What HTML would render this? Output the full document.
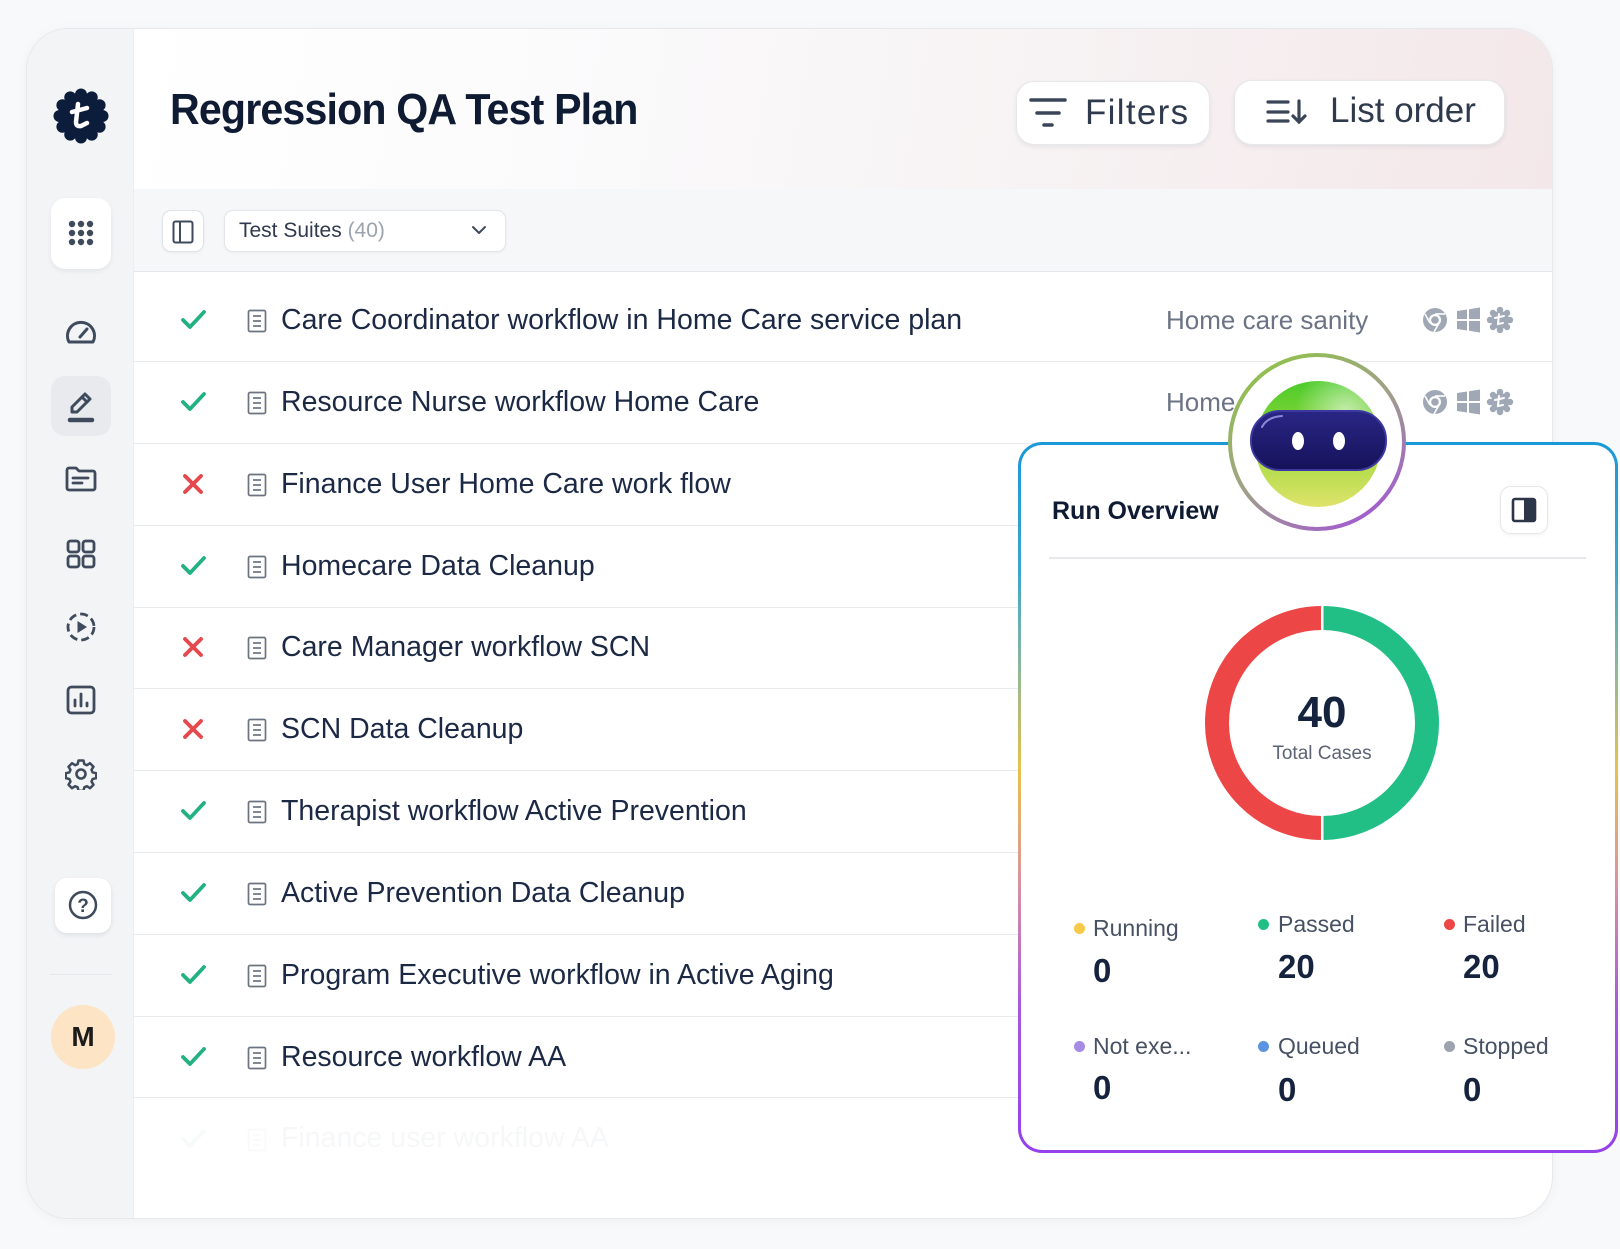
<!DOCTYPE html>
<html><head><meta charset="utf-8">
<style>
*{margin:0;padding:0;box-sizing:border-box}
html,body{width:1620px;height:1249px;overflow:hidden;background:#f8f9fa;font-family:"Liberation Sans",Arial,sans-serif;position:relative}
.a{position:absolute}
.t{position:absolute;white-space:nowrap}
.row{position:absolute;left:281px;font-size:28.5px;color:#1c2945;height:34px;line-height:34px;white-space:nowrap}
.sep{position:absolute;left:134px;width:1419px;height:1px;background:#e8eaee}
.lbl{position:absolute;font-size:23px;color:#475163;height:28px;line-height:28px;white-space:nowrap}
.val{position:absolute;font-size:33px;font-weight:bold;color:#16233f;height:38px;line-height:38px}
.dot{position:absolute;width:11px;height:11px;border-radius:50%}
</style></head><body>

<!-- Card -->
<div class="a" style="left:26px;top:28px;width:1527px;height:1191px;border:1px solid #e6e8ec;border-radius:42px;background:#fff;overflow:hidden;box-shadow:0 2px 12px rgba(20,30,50,0.04)">
  <div class="a" style="left:0;top:0;width:107px;height:1191px;background:#f3f4f6;border-right:1px solid #eceef1"></div>
  <div class="a" style="left:107px;top:0;width:1420px;height:160px;background:linear-gradient(100deg,#ffffff 0%,#fbfbfc 30%,#f7f2f3 65%,#f3e7e9 100%)"></div>
  <div class="a" style="left:107px;top:160px;width:1420px;height:83px;background:#f6f7f9;border-bottom:1px solid #e3e6ea"></div>
</div>

<!-- Logo -->
<svg class="a" style="left:53px;top:88px" width="56" height="56" viewBox="0 0 56 56">
  <g fill="#0c1c3b">
    <circle cx="28" cy="28" r="21"/>
    <circle cx="28" cy="6.5" r="6"/><circle cx="38.75" cy="9.4" r="6"/><circle cx="46.6" cy="17.25" r="6"/>
    <circle cx="49.5" cy="28" r="6"/><circle cx="46.6" cy="38.75" r="6"/><circle cx="38.75" cy="46.6" r="6"/>
    <circle cx="28" cy="49.5" r="6"/><circle cx="17.25" cy="46.6" r="6"/><circle cx="9.4" cy="38.75" r="6"/>
    <circle cx="6.5" cy="28" r="6"/><circle cx="9.4" cy="17.25" r="6"/><circle cx="17.25" cy="9.4" r="6"/>
  </g>
  <path d="M25 16 L23 34 Q23 39 28 38 L34 35 M19 24 L34 20" stroke="#fff" stroke-width="4.5" fill="none" stroke-linecap="round" stroke-linejoin="round"/>
</svg>

<!-- Title -->
<div class="t" style="left:170px;top:84px;height:52px;line-height:52px;font-size:44px;font-weight:bold;color:#0f1b33;letter-spacing:-0.9px;transform:scaleX(0.935);transform-origin:left center">Regression QA Test Plan</div>

<!-- Header buttons -->
<div class="a" style="left:1016px;top:81px;width:194px;height:64px;background:#fff;border:1px solid #e6e8ec;border-radius:18px;box-shadow:0 2px 5px rgba(30,40,60,0.07)"></div>
<svg class="a" style="left:1028px;top:96px" width="40" height="34"><g stroke="#3a4558" stroke-width="3.5" stroke-linecap="round"><line x1="3" y1="4" x2="37" y2="4"/><line x1="9" y1="17" x2="31" y2="17"/><line x1="16" y1="29" x2="24" y2="29"/></g></svg>
<div class="t" style="left:1085px;top:92px;height:42px;line-height:42px;font-size:35px;color:#2f3a4d;letter-spacing:1.3px">Filters</div>

<div class="a" style="left:1234px;top:80px;width:271px;height:65px;background:#fff;border:1px solid #e6e8ec;border-radius:18px;box-shadow:0 2px 5px rgba(30,40,60,0.07)"></div>
<svg class="a" style="left:1264px;top:96px" width="44" height="32"><g stroke="#3a4558" stroke-width="3.2" stroke-linecap="round" fill="none"><line x1="4" y1="6" x2="24" y2="6"/><line x1="4" y1="16" x2="24" y2="16"/><line x1="4" y1="25" x2="24" y2="25"/><line x1="35" y1="5" x2="35" y2="26"/><polyline points="29,20 35,26 41,20"/></g></svg>
<div class="t" style="left:1330px;top:90px;height:42px;line-height:42px;font-size:35px;color:#2f3a4d">List order</div>

<!-- Toolbar -->
<div class="a" style="left:162px;top:210px;width:42px;height:42px;background:#fff;border:1px solid #dfe2e7;border-radius:9px;box-shadow:0 1px 3px rgba(0,0,0,0.05)"></div>
<svg class="a" style="left:172px;top:220px" width="22" height="24"><rect x="1.5" y="1.5" width="19" height="21" rx="2" fill="none" stroke="#3f4a5c" stroke-width="2"/><line x1="8" y1="2" x2="8" y2="22" stroke="#3f4a5c" stroke-width="2"/></svg>
<div class="a" style="left:224px;top:210px;width:282px;height:42px;background:#fff;border:1px solid #e3e6ea;border-radius:9px;box-shadow:0 1px 3px rgba(0,0,0,0.05)"></div>
<div class="t" style="left:239px;top:218px;height:26px;line-height:26px;font-size:21px;color:#2f3a4d">Test Suites <span style="color:#9ca3af">(40)</span></div>
<svg class="a" style="left:471px;top:224px" width="16" height="12"><polyline points="2,3 8,9 14,3" fill="none" stroke="#3f4a5c" stroke-width="2" stroke-linecap="round" stroke-linejoin="round"/></svg>

<!-- Sidebar -->
<div class="a" style="left:51px;top:198px;width:60px;height:71px;background:#fff;border-radius:14px;box-shadow:0 2px 5px rgba(30,40,60,0.08)"></div>
<svg class="a" style="left:66px;top:218px" width="30" height="30"><g fill="#3f4a5c"><circle cx="6" cy="6" r="3.2"/><circle cx="15" cy="6" r="3.2"/><circle cx="24" cy="6" r="3.2"/><circle cx="6" cy="15" r="3.2"/><circle cx="15" cy="15" r="3.2"/><circle cx="24" cy="15" r="3.2"/><circle cx="6" cy="24" r="3.2"/><circle cx="15" cy="24" r="3.2"/><circle cx="24" cy="24" r="3.2"/></g></svg>

<svg class="a" style="left:64px;top:317px" width="34" height="30"><g stroke="#3f4a5c" stroke-width="3" fill="none" stroke-linecap="round" stroke-linejoin="round"><path d="M5 25 A13.5 13.5 0 1 1 29 25 Z"/><line x1="16" y1="20" x2="23" y2="12"/></g></svg>

<div class="a" style="left:51px;top:376px;width:60px;height:60px;background:#e8eaee;border-radius:14px"></div>
<svg class="a" style="left:63px;top:388px" width="36" height="36"><g stroke="#3f4a5c" stroke-width="3" fill="none" stroke-linecap="round" stroke-linejoin="round"><path d="M9 24 L9 19 L22 6 L27 11 L14 24 Z"/><line x1="19" y1="9" x2="24" y2="14"/></g><line x1="7" y1="32" x2="29" y2="32" stroke="#3f4a5c" stroke-width="4.5" stroke-linecap="round"/></svg>

<svg class="a" style="left:65px;top:466px" width="32" height="27"><g stroke="#3f4a5c" stroke-width="2.8" fill="none" stroke-linecap="round" stroke-linejoin="round"><path d="M2 4 a2 2 0 0 1 2-2 h7 l3 3 h14 a2 2 0 0 1 2 2 v15 a2 2 0 0 1 -2 2 h-24 a2 2 0 0 1 -2 -2 z"/><line x1="8" y1="12" x2="23" y2="12"/><line x1="8" y1="17" x2="17" y2="17"/></g></svg>

<svg class="a" style="left:66px;top:539px" width="30" height="30"><g stroke="#3f4a5c" stroke-width="2.8" fill="none"><rect x="2" y="2" width="11" height="11" rx="2.5"/><rect x="17" y="2" width="11" height="11" rx="2.5"/><rect x="2" y="17" width="11" height="11" rx="2.5"/><rect x="17" y="17" width="11" height="11" rx="2.5"/></g></svg>

<svg class="a" style="left:65px;top:611px" width="32" height="32"><circle cx="16" cy="16" r="13" fill="none" stroke="#3f4a5c" stroke-width="2.8" stroke-dasharray="8 4"/><path d="M12.5 10 L22 16 L12.5 22 Z" fill="#3f4a5c"/></svg>

<svg class="a" style="left:66px;top:685px" width="30" height="30"><rect x="2" y="2" width="26" height="26" rx="3.5" fill="none" stroke="#3f4a5c" stroke-width="2.8"/><g stroke="#3f4a5c" stroke-width="2.8" stroke-linecap="round"><line x1="9" y1="21" x2="9" y2="15"/><line x1="15" y1="21" x2="15" y2="9"/><line x1="21" y1="21" x2="21" y2="18"/></g></svg>

<svg class="a" style="left:65px;top:758px" width="32" height="32" viewBox="0 0 32 32">
  <path d="M13.5 2.5 h5 l0.8 3.6 l2.6 1.1 l3.1 -2 l3.5 3.5 l-2 3.1 l1.1 2.6 l3.6 0.8 v5 l-3.6 0.8 l-1.1 2.6 l2 3.1 l-3.5 3.5 l-3.1 -2 l-2.6 1.1 l-0.8 3.6 h-5 l-0.8 -3.6 l-2.6 -1.1 l-3.1 2 l-3.5 -3.5 l2 -3.1 l-1.1 -2.6 l-3.6 -0.8 v-5 l3.6 -0.8 l1.1 -2.6 l-2 -3.1 l3.5 -3.5 l3.1 2 l2.6 -1.1 z" fill="none" stroke="#3f4a5c" stroke-width="2.5" stroke-linejoin="round"/>
  <circle cx="16" cy="16" r="4.5" fill="none" stroke="#3f4a5c" stroke-width="2.6"/>
</svg>

<div class="a" style="left:55px;top:878px;width:56px;height:55px;background:#fff;border-radius:12px;box-shadow:0 2px 5px rgba(30,40,60,0.1)"></div>
<svg class="a" style="left:68px;top:890px" width="30" height="30"><circle cx="15" cy="15" r="13" fill="none" stroke="#3f4a5c" stroke-width="2.5"/><text x="15" y="22" text-anchor="middle" font-family="Liberation Sans, sans-serif" font-size="19" font-weight="bold" fill="#3f4a5c">?</text></svg>
<div class="a" style="left:50px;top:974px;width:62px;height:1px;background:#e5e7eb"></div>
<div class="a" style="left:51px;top:1005px;width:64px;height:64px;border-radius:50%;background:#fde4c4"></div>
<div class="t" style="left:51px;top:1020px;width:64px;height:34px;line-height:34px;text-align:center;font-size:28px;font-weight:bold;color:#1b1b1b">M</div>

<!-- Separators -->
<div class="sep" style="top:361px"></div>
<div class="sep" style="top:443px"></div>
<div class="sep" style="top:525px"></div>
<div class="sep" style="top:607px"></div>
<div class="sep" style="top:688px"></div>
<div class="sep" style="top:770px"></div>
<div class="sep" style="top:852px"></div>
<div class="sep" style="top:934px"></div>
<div class="sep" style="top:1016px"></div>
<div class="sep" style="top:1097px"></div>

<!-- Status icons and doc icons -->
<svg class="a" style="left:0;top:0" width="300" height="1249">
  <defs>
    <g id="ok"><polyline points="-10,0 -3,7 11,-8" fill="none" stroke="#21b27f" stroke-width="3.8" stroke-linecap="round" stroke-linejoin="round"/></g>
    <g id="no"><g stroke="#e5484d" stroke-width="3.8" stroke-linecap="round"><line x1="-8" y1="-8" x2="8" y2="8"/><line x1="8" y1="-8" x2="-8" y2="8"/></g></g>
    <g id="doc"><rect x="-8.5" y="-10.5" width="17" height="21" rx="1.5" fill="none" stroke="#6b7280" stroke-width="1.7"/><g stroke="#6b7280" stroke-width="1.7"><line x1="-4" y1="-5" x2="4" y2="-5"/><line x1="-4" y1="0" x2="4" y2="0"/><line x1="-4" y1="5" x2="4" y2="5"/></g></g>
  </defs>
  <use href="#ok" x="193" y="320"/><use href="#doc" x="257" y="321"/>
  <use href="#ok" x="193" y="402"/><use href="#doc" x="257" y="403"/>
  <use href="#no" x="193" y="484"/><use href="#doc" x="257" y="485"/>
  <use href="#ok" x="193" y="566"/><use href="#doc" x="257" y="567"/>
  <use href="#no" x="193" y="647"/><use href="#doc" x="257" y="648"/>
  <use href="#no" x="193" y="729"/><use href="#doc" x="257" y="730"/>
  <use href="#ok" x="193" y="811"/><use href="#doc" x="257" y="812"/>
  <use href="#ok" x="193" y="893"/><use href="#doc" x="257" y="894"/>
  <use href="#ok" x="193" y="975"/><use href="#doc" x="257" y="976"/>
  <use href="#ok" x="193" y="1057"/><use href="#doc" x="257" y="1058"/>
  <g opacity="0.035"><use href="#ok" x="193" y="1139"/><use href="#doc" x="257" y="1140"/></g>
</svg>

<div class="row" style="top:303px">Care Coordinator workflow in Home Care service plan</div>
<div class="row" style="top:385px">Resource Nurse workflow Home Care</div>
<div class="row" style="top:467px">Finance User Home Care work flow</div>
<div class="row" style="top:549px">Homecare Data Cleanup</div>
<div class="row" style="top:630px">Care Manager workflow SCN</div>
<div class="row" style="top:712px">SCN Data Cleanup</div>
<div class="row" style="top:794px">Therapist workflow Active Prevention</div>
<div class="row" style="top:876px">Active Prevention Data Cleanup</div>
<div class="row" style="top:958px">Program Executive workflow in Active Aging</div>
<div class="row" style="top:1040px">Resource workflow AA</div>
<div class="row" style="top:1121px;color:#f6f7f8">Finance user workflow AA</div>

<!-- Right column row 1/2 -->
<div class="t" style="left:1166px;top:304px;height:32px;line-height:32px;font-size:26px;color:#6b7384">Home care sanity</div>
<div class="t" style="left:1166px;top:386px;height:32px;line-height:32px;font-size:26px;color:#6b7384">Home</div>
<svg class="a" style="left:1420px;top:305px" width="96" height="115">
  <defs>
    <g id="ic">
      <circle cx="15" cy="15" r="12" fill="#a0a8b5"/><circle cx="15" cy="15" r="6" fill="#fff"/><circle cx="15" cy="15" r="3.8" fill="#a0a8b5"/>
      <path d="M15 9 L25 9" stroke="#fff" stroke-width="1.6"/><path d="M10 18 L5 9" stroke="#fff" stroke-width="1.6"/><path d="M19 18 L14 27" stroke="#fff" stroke-width="1.6"/>
      <g fill="#a0a8b5"><path d="M37 6 L47 4.5 L47 14 L37 14 Z"/><path d="M49 4.2 L60 2.5 L60 14 L49 14 Z"/><path d="M37 16 L47 16 L47 25.5 L37 24 Z"/><path d="M49 16 L60 16 L60 27.5 L49 25.8 Z"/></g>
      <g fill="#a0a8b5"><circle cx="80" cy="15" r="9"/><circle cx="80" cy="5" r="3.2"/><circle cx="87" cy="8" r="3.2"/><circle cx="90" cy="15" r="3.2"/><circle cx="87" cy="22" r="3.2"/><circle cx="80" cy="25" r="3.2"/><circle cx="73" cy="22" r="3.2"/><circle cx="70" cy="15" r="3.2"/><circle cx="73" cy="8" r="3.2"/></g>
      <path d="M79 9 L78 19 L83 18 M75 13 L84 11" stroke="#fff" stroke-width="2" fill="none" stroke-linecap="round"/>
    </g>
  </defs>
  <use href="#ic" x="0" y="0"/>
  <use href="#ic" x="0" y="82"/>
</svg>

<!-- Run Overview panel -->
<div class="a" style="left:1018px;top:442px;width:600px;height:711px;border-radius:24px;background:linear-gradient(180deg,#1a98d8 0%,#3aa6cc 18%,#8fb89a 32%,#e6c24c 46%,#d993a0 62%,#a558dc 80%,#9442ea 100%);z-index:2"></div>
<div class="a" style="left:1021px;top:445px;width:594px;height:705px;border-radius:21px;background:#fff;z-index:2"></div>

<div class="t" style="left:1052px;top:496px;height:30px;line-height:30px;font-size:25px;font-weight:bold;color:#0f1b33;z-index:3">Run Overview</div>
<div class="a" style="left:1500px;top:486px;width:48px;height:48px;border:1px solid #e5e7eb;border-radius:11px;background:#fff;box-shadow:0 1px 4px rgba(0,0,0,0.06);z-index:3"></div>
<svg class="a" style="left:1511px;top:497px;z-index:3" width="26" height="26"><rect x="2" y="2" width="22" height="22" rx="2" fill="none" stroke="#2c3648" stroke-width="2.6"/><rect x="13" y="2" width="11" height="22" fill="#2c3648"/></svg>
<div class="a" style="left:1049px;top:557px;width:537px;height:2px;background:#e6e8ec;z-index:3"></div>

<!-- Donut -->
<svg class="a" style="left:1200px;top:601px;z-index:3" width="244" height="244" viewBox="0 0 244 244">
  <path d="M122 17 A105 105 0 0 1 122 227" fill="none" stroke="#21bf86" stroke-width="24"/>
  <path d="M122 227 A105 105 0 0 1 122 17" fill="none" stroke="#ec4646" stroke-width="24"/>
  <rect x="121" y="3" width="2.5" height="28" fill="#fff"/>
  <rect x="121" y="213" width="2.5" height="28" fill="#fff"/>
</svg>
<div class="t" style="left:1222px;top:687px;width:200px;height:52px;line-height:52px;text-align:center;font-size:44px;font-weight:bold;color:#16233f;z-index:3">40</div>
<div class="t" style="left:1222px;top:742px;width:200px;height:24px;line-height:24px;text-align:center;font-size:19px;color:#5b6474;z-index:3">Total Cases</div>

<!-- Stats -->
<div style="position:absolute;left:0;top:0;z-index:3">
  <div class="dot" style="left:1074px;top:923px;background:#f7c948"></div>
  <div class="lbl" style="left:1093px;top:914px">Running</div>
  <div class="val" style="left:1093px;top:952px">0</div>
  <div class="dot" style="left:1258px;top:919px;background:#21bf86"></div>
  <div class="lbl" style="left:1278px;top:910px">Passed</div>
  <div class="val" style="left:1278px;top:948px">20</div>
  <div class="dot" style="left:1444px;top:919px;background:#ec4646"></div>
  <div class="lbl" style="left:1463px;top:910px">Failed</div>
  <div class="val" style="left:1463px;top:948px">20</div>

  <div class="dot" style="left:1074px;top:1041px;background:#a58be3"></div>
  <div class="lbl" style="left:1093px;top:1032px">Not exe...</div>
  <div class="val" style="left:1093px;top:1069px">0</div>
  <div class="dot" style="left:1258px;top:1041px;background:#5b93e0"></div>
  <div class="lbl" style="left:1278px;top:1032px">Queued</div>
  <div class="val" style="left:1278px;top:1071px">0</div>
  <div class="dot" style="left:1444px;top:1041px;background:#9ca3af"></div>
  <div class="lbl" style="left:1463px;top:1032px">Stopped</div>
  <div class="val" style="left:1463px;top:1071px">0</div>
</div>

<!-- Robot -->
<svg class="a" style="left:1222px;top:347px;z-index:4" width="190" height="190" viewBox="0 0 190 190">
  <defs>
    <linearGradient id="ring" x1="0.15" y1="0" x2="0.85" y2="1">
      <stop offset="0" stop-color="#8fc447"/><stop offset="0.5" stop-color="#a0a088"/><stop offset="1" stop-color="#a253d8"/>
    </linearGradient>
    <linearGradient id="ball" x1="0" y1="0" x2="0" y2="1">
      <stop offset="0" stop-color="#4ccb2a"/><stop offset="0.5" stop-color="#9ad83c"/><stop offset="1" stop-color="#dfe36a"/>
    </linearGradient>
    <radialGradient id="hl" cx="0.72" cy="0.25" r="0.4"><stop offset="0" stop-color="#fff" stop-opacity="0.6"/><stop offset="1" stop-color="#fff" stop-opacity="0"/></radialGradient>
    <linearGradient id="visor" x1="0" y1="0" x2="0" y2="1"><stop offset="0" stop-color="#2a2686"/><stop offset="1" stop-color="#15125a"/></linearGradient>
  </defs>
  <circle cx="95" cy="95" r="87" fill="#fff" stroke="url(#ring)" stroke-width="4"/>
  <circle cx="96" cy="97" r="63" fill="url(#ball)"/>
  <circle cx="96" cy="97" r="63" fill="url(#hl)"/>
  <rect x="29" y="64" width="135" height="59" rx="29" fill="url(#visor)" stroke="#3c38a0" stroke-width="2"/>
  <path d="M40 80 Q45 70 60 69" stroke="#8c89d8" stroke-width="2" fill="none" stroke-linecap="round"/>
  <ellipse cx="76" cy="94" rx="6" ry="9" fill="#fff"/>
  <ellipse cx="117" cy="94" rx="6" ry="9" fill="#fff"/>
</svg>

</body></html>
